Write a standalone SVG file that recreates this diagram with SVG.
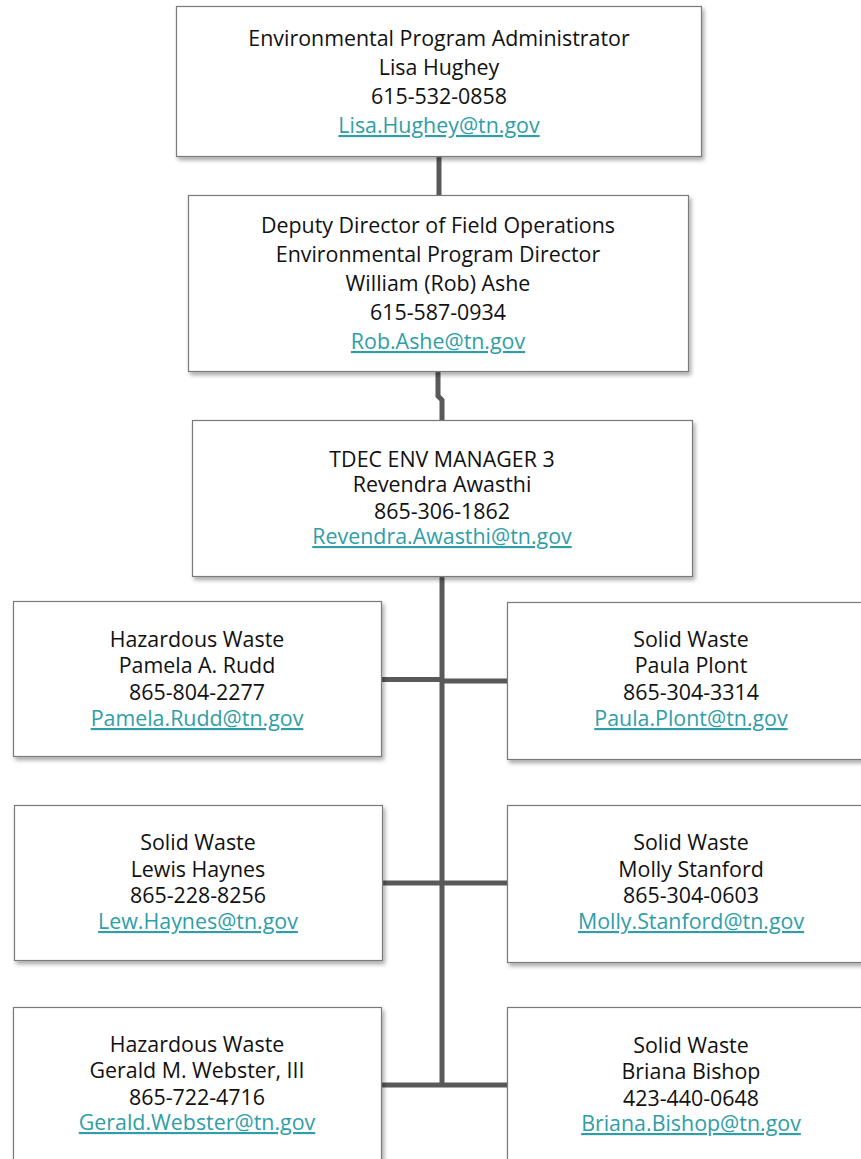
<svg xmlns="http://www.w3.org/2000/svg" width="861" height="1159" viewBox="0 0 861 1159">
<defs>
<filter id="sh" x="-10%" y="-10%" width="120%" height="130%">
<feDropShadow dx="2" dy="3" stdDeviation="2" flood-color="#000" flood-opacity="0.35"/>
</filter>
<style>
.box{fill:#fff;stroke:#7a7a7a;stroke-width:1.2;filter:url(#sh)}
.t{font-family:"Open Sans","Noto Sans",sans-serif;font-size:21.4px;fill:#111;text-anchor:middle}
.l{fill:#2f9ea7;text-decoration:underline}
.c{fill:none;stroke:#595959;stroke-width:5}
</style>
</defs>
<g id="connectors">
<path class="c" d="M439 156V195"/>
<path class="c" d="M438 371V396L442 400V420"/>
<path class="c" d="M442 576V1083"/>
<path class="c" d="M381 679.5H442"/>
<path class="c" d="M442 681H507"/>
<path class="c" d="M383 883H442"/>
<path class="c" d="M442 883H507"/>
<path class="c" d="M381 1085H507"/>
</g>
<g id="n1">
<rect class="box" x="176.5" y="6.5" width="525" height="150"/>
<text class="t" x="439" y="46">Environmental Program Administrator</text>
<text class="t" x="439" y="75">Lisa Hughey</text>
<text class="t" x="439" y="104">615-532-0858</text>
<text class="t l" x="439" y="133">Lisa.Hughey@tn.gov</text>
</g>
<g id="n2">
<rect class="box" x="188.5" y="195.5" width="500" height="176"/>
<text class="t" x="438" y="233">Deputy Director of Field Operations</text>
<text class="t" x="438" y="262">Environmental Program Director</text>
<text class="t" x="438" y="291">William (Rob) Ashe</text>
<text class="t" x="438" y="320">615-587-0934</text>
<text class="t l" x="438" y="349">Rob.Ashe@tn.gov</text>
</g>
<g id="n3">
<rect class="box" x="192.5" y="420.5" width="500" height="156"/>
<text class="t" x="442" y="467">TDEC ENV MANAGER 3</text>
<text class="t" x="442" y="492">Revendra Awasthi</text>
<text class="t" x="442" y="519">865-306-1862</text>
<text class="t l" x="442" y="544">Revendra.Awasthi@tn.gov</text>
</g>
<g id="n4">
<rect class="box" x="13.5" y="601.5" width="368" height="155"/>
<text class="t" x="197" y="647">Hazardous Waste</text>
<text class="t" x="197" y="673">Pamela A. Rudd</text>
<text class="t" x="197" y="700">865-804-2277</text>
<text class="t l" x="197" y="726">Pamela.Rudd@tn.gov</text>
</g>
<g id="n5">
<rect class="box" x="507.5" y="602.5" width="370" height="157"/>
<text class="t" x="691" y="647">Solid Waste</text>
<text class="t" x="691" y="673">Paula Plont</text>
<text class="t" x="691" y="700">865-304-3314</text>
<text class="t l" x="691" y="726">Paula.Plont@tn.gov</text>
</g>
<g id="n6">
<rect class="box" x="14.5" y="805.5" width="368" height="155"/>
<text class="t" x="198" y="850">Solid Waste</text>
<text class="t" x="198" y="877">Lewis Haynes</text>
<text class="t" x="198" y="903">865-228-8256</text>
<text class="t l" x="198" y="929">Lew.Haynes@tn.gov</text>
</g>
<g id="n7">
<rect class="box" x="507.5" y="805.5" width="370" height="157"/>
<text class="t" x="691" y="850">Solid Waste</text>
<text class="t" x="691" y="877">Molly Stanford</text>
<text class="t" x="691" y="903">865-304-0603</text>
<text class="t l" x="691" y="929">Molly.Stanford@tn.gov</text>
</g>
<g id="n8">
<rect class="box" x="13.5" y="1007.5" width="368" height="170"/>
<text class="t" x="197" y="1052">Hazardous Waste</text>
<text class="t" x="197" y="1078">Gerald M. Webster, III</text>
<text class="t" x="197" y="1105">865-722-4716</text>
<text class="t l" x="197" y="1130">Gerald.Webster@tn.gov</text>
</g>
<g id="n9">
<rect class="box" x="507.5" y="1007.5" width="370" height="170"/>
<text class="t" x="691" y="1053">Solid Waste</text>
<text class="t" x="691" y="1079">Briana Bishop</text>
<text class="t" x="691" y="1106">423-440-0648</text>
<text class="t l" x="691" y="1131">Briana.Bishop@tn.gov</text>
</g>
</svg>
